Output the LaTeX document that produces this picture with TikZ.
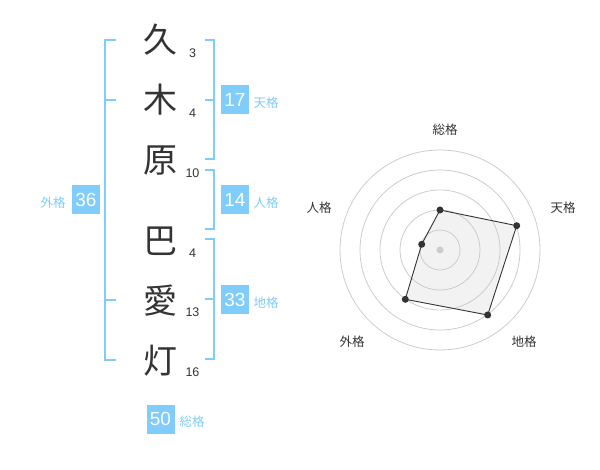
\documentclass[tikz,border=0pt]{standalone}
\usepackage{fontspec}
\setmainfont{Liberation Sans}
\newfontfamily\cjk{Noto Sans CJK JP}
\definecolor{lblue}{HTML}{80CCFA}
\definecolor{ink}{HTML}{333333}
\definecolor{ringc}{HTML}{CCCCCC}
\definecolor{polyfill}{HTML}{F2F2F2}
\tikzset{
  kanji/.style={font=\cjk\fontsize{34}{36}\selectfont, text=ink, inner sep=0pt},
  strokes/.style={font=\fontsize{12.5}{14}\selectfont, text=ink, inner sep=0pt},
  scorebox/.style={fill=lblue, text=white, minimum width=28pt, minimum height=29pt, inner sep=0pt, font=\fontsize{19}{20}\selectfont},
  scorelabel/.style={font=\cjk\fontsize{12.5}{14}\selectfont, text=lblue, inner sep=0pt},
  bracket/.style={draw=lblue, line width=2pt},
  ring/.style={draw=ringc, line width=0.8pt},
  axislabel/.style={font=\cjk\fontsize{12.5}{14}\selectfont, text=ink, inner sep=0pt},
  vdot/.style={circle, fill=ink, inner sep=0pt, minimum size=7pt},
}
\begin{document}
\begin{tikzpicture}[x=1pt,y=-1pt]
\useasboundingbox (0,0) rectangle (600,470);
% kanji
\node[kanji] (k1) at (160,40) {久};
\node[kanji] (k2) at (160,100) {木};
\node[kanji] (k3) at (160,161) {原};
\node[kanji] (k4) at (160,241) {巴};
\node[kanji] (k5) at (160,301) {愛};
\node[kanji] (k6) at (160,361) {灯};
% stroke counts
\node[strokes] (s1) at (192.5,53) {3};
\node[strokes] (s2) at (192.5,113) {4};
\node[strokes] (s3) at (192.5,173) {10};
\node[strokes] (s4) at (192.5,253) {4};
\node[strokes] (s5) at (192.5,312) {13};
\node[strokes] (s6) at (192.5,372) {16};
% brackets
\draw[bracket] (116,40) -- (105,40) -- (105,360) -- (116,360);
\draw[bracket] (105,100) -- (116,100);
\draw[bracket] (105,300) -- (116,300);
\draw[bracket] (205,40) -- (214,40) -- (214,159) -- (205,159);
\draw[bracket] (205,100) -- (214,100);
\draw[bracket] (205,170) -- (214,170) -- (214,229) -- (205,229);
\draw[bracket] (205,239) -- (214,239) -- (214,359) -- (205,359);
\draw[bracket] (205,299) -- (214,299);
% score boxes
\node[scorebox] (b17) at (235,100) {17};
\node[scorelabel] (l17) at (266,103) {天格};
\node[scorebox] (b14) at (235,200) {14};
\node[scorelabel] (l14) at (266,203) {人格};
\node[scorebox] (b33) at (235,300) {33};
\node[scorelabel] (l33) at (266,303) {地格};
\node[scorebox] (b36) at (86,200) {36};
\node[scorelabel] (l36) at (53,203) {外格};
\node[scorebox] (b50) at (160.5,419) {50};
\node[scorelabel] (l50) at (192,422) {総格};
% radar
\coordinate (c) at (440,250);
\path (c) ++(0,-40) coordinate (pS);
\path (c) ++(76.7,-24.3) coordinate (pT);
\path (c) ++(47.7,65) coordinate (pC);
\path (c) ++(-34.7,49.3) coordinate (pG);
\path (c) ++(-18.3,-5.7) coordinate (pJ);
\fill[polyfill] (pS) -- (pT) -- (pC) -- (pG) -- (pJ) -- cycle;
\foreach \r in {20,40,60,80,100} \draw[ring] (c) circle[radius=\r];
\draw[ink, line width=0.9pt] (pS) -- (pT) -- (pC) -- (pG) -- (pJ) -- cycle;
\node[circle, fill=ringc, inner sep=0pt, minimum size=7pt] (cd) at (c) {};
\foreach \p in {pS,pT,pC,pG,pJ} \node[vdot] (d\p) at (\p) {};
\node[axislabel] (aS) at (445,130) {総格};
\node[axislabel] (aT) at (563,208) {天格};
\node[axislabel] (aC) at (524,342) {地格};
\node[axislabel] (aG) at (352,342) {外格};
\node[axislabel] (aJ) at (319,208) {人格};
\end{tikzpicture}
\end{document}
